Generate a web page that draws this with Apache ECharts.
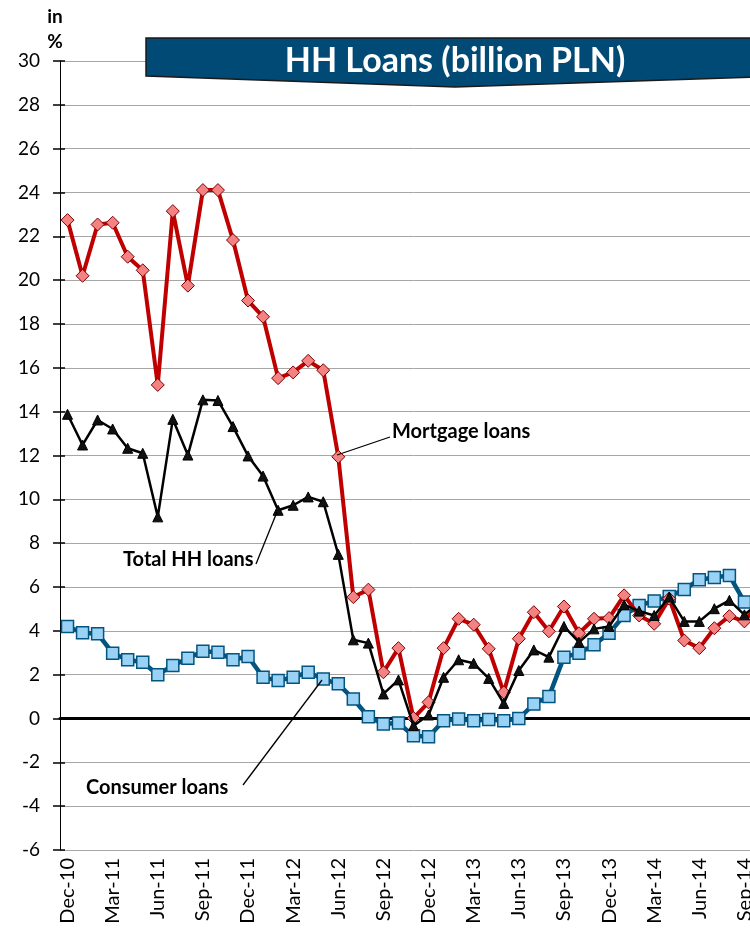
<!DOCTYPE html>
<html>
<head>
<meta charset="utf-8">
<script src="https://cdn.jsdelivr.net/npm/echarts@6/dist/echarts.min.js"></script>
<style>
html,body{margin:0;padding:0;background:#fff;overflow:hidden;width:750px;height:932px;}
#chart{width:780px;height:932px;}
</style>
</head>
<body>
<div id="chart"></div>
<script>
var categories = ['Dec-10','Jan-11','Feb-11','Mar-11','Apr-11','May-11','Jun-11','Jul-11','Aug-11','Sep-11','Oct-11','Nov-11',
  'Dec-11','Jan-12','Feb-12','Mar-12','Apr-12','May-12','Jun-12','Jul-12','Aug-12','Sep-12','Oct-12','Nov-12',
  'Dec-12','Jan-13','Feb-13','Mar-13','Apr-13','May-13','Jun-13','Jul-13','Aug-13','Sep-13','Oct-13','Nov-13',
  'Dec-13','Jan-14','Feb-14','Mar-14','Apr-14','May-14','Jun-14','Jul-14','Aug-14','Sep-14','Oct-14'];

var mortgageLoans = [22.74, 20.2, 22.54, 22.62, 21.07, 20.45, 15.22, 23.15, 19.75, 24.11, 24.11, 21.83,
  19.07, 18.33, 15.53, 15.79, 16.32, 15.89, 11.94, 5.54, 5.88, 2.11, 3.21, 0.02,
  0.74, 3.21, 4.55, 4.28, 3.18, 1.19, 3.64, 4.85, 3.98, 5.11, 3.89, 4.55,
  4.58, 5.62, 4.7, 4.32, 5.47, 3.56, 3.21, 4.12, 4.67, 4.43, 5.3];

var totalHHLoans = [13.88, 12.48, 13.62, 13.21, 12.33, 12.10, 9.2, 13.65, 12.02, 14.54, 14.51, 13.32,
  11.98, 11.06, 9.5, 9.73, 10.11, 9.89, 7.49, 3.59, 3.44, 1.12, 1.76, -0.33,
  0.16, 1.88, 2.68, 2.52, 1.83, 0.69, 2.19, 3.13, 2.8, 4.2, 3.48, 4.09,
  4.2, 5.19, 4.9, 4.7, 5.54, 4.43, 4.43, 5.01, 5.39, 4.73, 5.3];

var consumerLoans = [4.2, 3.91, 3.87, 2.98, 2.68, 2.57, 2.0, 2.42, 2.75, 3.07, 3.02, 2.68,
  2.83, 1.88, 1.73, 1.88, 2.11, 1.8, 1.58, 0.89, 0.08, -0.25, -0.21, -0.79,
  -0.83, -0.1, -0.02, -0.1, -0.05, -0.1, 0.0, 0.66, 1.0, 2.8, 2.98, 3.36,
  3.89, 4.7, 5.16, 5.36, 5.57, 5.89, 6.33, 6.43, 6.53, 5.31, 5.2];

var yMin = -6, yMax = 30, yStep = 2;
var titleText = 'HH Loans (billion PLN)';
var unitText = ['in', '%'];

var FONT = 'Lato, "Open Sans", sans-serif';
var chart = echarts.init(document.getElementById('chart'), null, {renderer: 'canvas'});

var option = {
  animation: false,
  backgroundColor: '#fff',
  grid: {left: 60, top: 61, width: 707, height: 789, containLabel: false},
  xAxis: [{
    type: 'category', data: categories, boundaryGap: true,
    axisLine: {show: false, onZero: false},
    axisTick: {show: false},
    axisLabel: {interval: 2, rotate: 90, fontFamily: FONT, fontSize: 20, color: '#000', margin: 8},
    splitLine: {show: false}
  }, {
    type: 'category', data: categories, boundaryGap: true, position: 'bottom',
    axisLine: {show: true, onZero: true, lineStyle: {color: '#000', width: 3}},
    axisTick: {show: false}, axisLabel: {show: false}, splitLine: {show: false}
  }],
  yAxis: [{
    type: 'value', min: yMin, max: yMax, interval: yStep,
    axisLine: {show: true, lineStyle: {color: '#000', width: 1}},
    axisTick: {show: true, length: 7, lineStyle: {color: '#000', width: 1.5}},
    axisLabel: {fontFamily: FONT, fontSize: 19, color: '#000', margin: 20},
    splitLine: {show: true, lineStyle: {color: '#A6A6A6', width: 1}}
  }, {
    type: 'value', min: yMin, max: yMax, interval: yStep, position: 'left',
    axisLine: {show: false},
    axisTick: {show: true, inside: true, length: 5, lineStyle: {color: '#000', width: 1.5}},
    axisLabel: {show: false}, splitLine: {show: false}
  }],
  series: [{
    name: 'Consumer loans', type: 'line', data: consumerLoans, z: 2,
    showAllSymbol: true, symbol: 'rect', symbolSize: 12,
    lineStyle: {color: '#03547F', width: 4.5},
    itemStyle: {color: '#99D2F5', borderColor: '#03547F', borderWidth: 1.5}
  }, {
    name: 'Mortgage loans', type: 'line', data: mortgageLoans, z: 3,
    showAllSymbol: true, symbol: 'diamond', symbolSize: [13, 13],
    lineStyle: {color: '#C00000', width: 4},
    itemStyle: {color: '#F48282', borderColor: '#7A0000', borderWidth: 1}
  }, {
    name: 'Total HH loans', type: 'line', data: totalHHLoans, z: 4,
    showAllSymbol: true, symbol: 'triangle', symbolSize: 10,
    lineStyle: {color: '#000', width: 2.5},
    itemStyle: {color: '#111', borderColor: '#000', borderWidth: 1}
  }],
  graphic: [
    {type: 'polygon', z: 100, shape: {points: [[146,38],[790,38],[790,76],[455,87],[146,76]]},
     style: {fill: '#004A75', stroke: '#1a1a1a', lineWidth: 1.5}},
    {type: 'text', z: 101, style: {text: titleText, x: 455, y: 61, fill: '#fff',
      font: 'bold 34px ' + FONT, align: 'center', verticalAlign: 'middle'}},
    {type: 'text', z: 101, style: {text: unitText[0], x: 55, y: 17, fill: '#000', font: 'bold 19px ' + FONT, align: 'center', verticalAlign: 'middle'}},
    {type: 'text', z: 101, style: {text: unitText[1], x: 55, y: 42, fill: '#000', font: 'bold 19px ' + FONT, align: 'center', verticalAlign: 'middle'}},
    {type: 'line', z: 50, shape: {x1: 337, y1: 455, x2: 390, y2: 437}, style: {stroke: '#000', lineWidth: 1.3}},
    {type: 'text', z: 101, style: {text: 'Mortgage loans', x: 392, y: 432, fill: '#000', font: 'bold 20px ' + FONT, align: 'left', verticalAlign: 'middle'}},
    {type: 'line', z: 50, shape: {x1: 256, y1: 564, x2: 277, y2: 512}, style: {stroke: '#000', lineWidth: 1.3}},
    {type: 'text', z: 101, style: {text: 'Total HH loans', x: 123, y: 560, fill: '#000', font: 'bold 20px ' + FONT, align: 'left', verticalAlign: 'middle'}},
    {type: 'line', z: 50, shape: {x1: 243, y1: 785, x2: 322, y2: 680}, style: {stroke: '#000', lineWidth: 1.3}},
    {type: 'text', z: 101, style: {text: 'Consumer loans', x: 86, y: 788, fill: '#000', font: 'bold 20px ' + FONT, align: 'left', verticalAlign: 'middle'}}
  ]
};
chart.setOption(option);
</script>
</body>
</html>
